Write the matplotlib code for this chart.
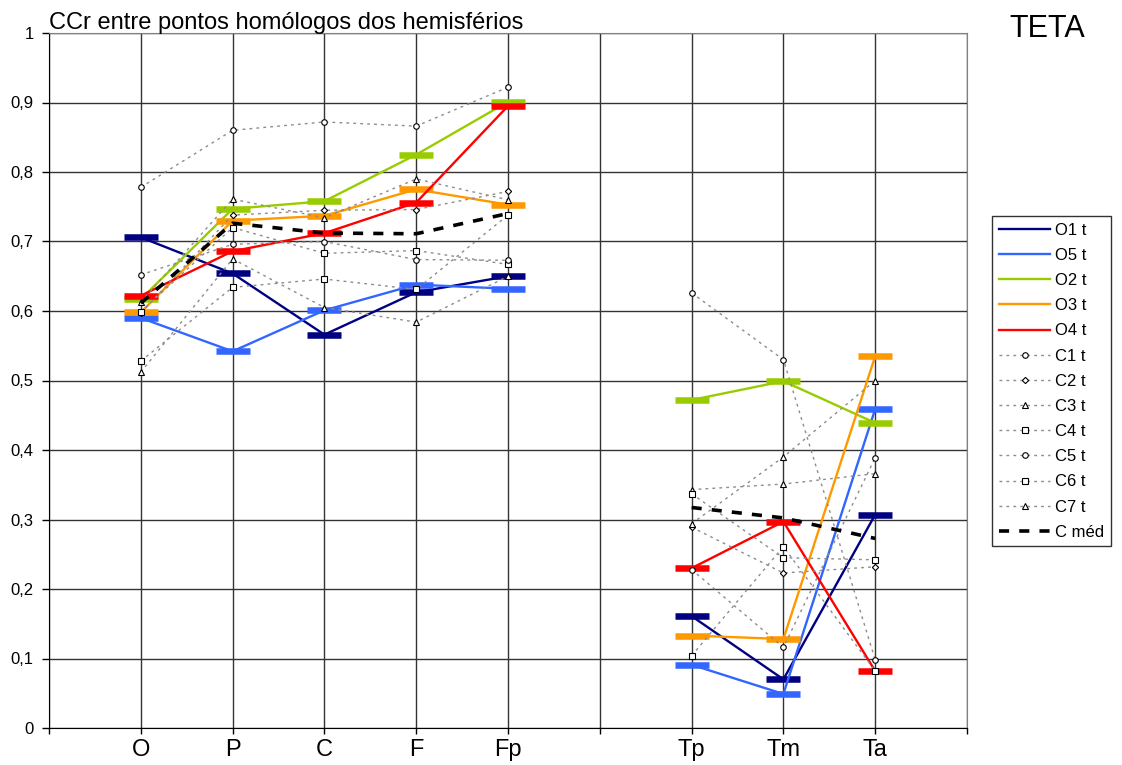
import numpy as np
import matplotlib
matplotlib.use('Agg')
import matplotlib.pyplot as plt
import matplotlib.transforms as mtransforms
from matplotlib.lines import Line2D

plt.rcParams['font.family'] = ['Liberation Sans', 'DejaVu Sans']

# electrode regions (position 6 is an empty slot between the two groups)
labels = ['O', 'P', 'C', 'F', 'Fp', 'Tp', 'Tm', 'Ta']
xpos = [1, 2, 3, 4, 5, 7, 8, 9]

O1 = [0.706, 0.654, 0.566, 0.627, 0.650, 0.161, 0.070, 0.307]
O5 = [0.590, 0.542, 0.601, 0.638, 0.632, 0.091, 0.049, 0.459]
O2 = [0.617, 0.747, 0.758, 0.825, 0.901, 0.472, 0.499, 0.439]
O3 = [0.598, 0.730, 0.737, 0.775, 0.753, 0.133, 0.128, 0.535]
O4 = [0.622, 0.686, 0.712, 0.756, 0.895, 0.230, 0.297, 0.082]

C1 = [0.778, 0.860, 0.872, 0.866, 0.922, 0.626, 0.530, 0.098]
C2 = [0.597, 0.738, 0.745, 0.746, 0.772, 0.289, 0.223, 0.232]
C3 = [0.613, 0.761, 0.734, 0.790, 0.760, 0.343, 0.351, 0.366]
C4 = [0.599, 0.720, 0.683, 0.687, 0.667, 0.337, 0.245, 0.242]
C5 = [0.652, 0.696, 0.700, 0.674, 0.673, 0.228, 0.116, 0.389]
C6 = [0.528, 0.634, 0.646, 0.631, 0.738, 0.104, 0.261, 0.082]
C7 = [0.512, 0.675, 0.605, 0.584, 0.650, 0.294, 0.390, 0.500]

o_series = [('O1 t', O1, '#000080'), ('O5 t', O5, '#3366ff'), ('O2 t', O2, '#99cc00'),
            ('O3 t', O3, '#ff9900'), ('O4 t', O4, '#ff0000')]
c_series = [('C1 t', C1, 'o'), ('C2 t', C2, 'D'), ('C3 t', C3, '^'), ('C4 t', C4, 's'),
            ('C5 t', C5, 'o'), ('C6 t', C6, 's'), ('C7 t', C7, '^')]
c_med = np.mean([C1, C2, C3, C4, C5, C6, C7], axis=0)


def with_gap(vals):
    x = np.insert(np.array(xpos, float), 5, 6)
    y = np.insert(np.array(vals, float), 5, np.nan)
    return x, y


W, H = 1122, 765
fig = plt.figure(figsize=(W / 100, H / 100), dpi=100)
ax = fig.add_axes([49 / W, 1 - 728 / H, (967 - 49) / W, (728 - 33) / H])

handles = []
for name, vals, color in o_series:
    x, y = with_gap(vals)
    ax.plot(x, y, color=color, lw=1.7, marker='_', ms=24.5, mew=4.7, zorder=3)
    handles.append(Line2D([], [], color=color, lw=1.7, label=name))

c_kw = dict(color='#8c8c8c', lw=1.0, ls=(0, (2, 3)), mfc='white', mec='black', mew=0.8)
for name, vals, m in c_series:
    ms = 3.2 if m == 'D' else 4
    x, y = with_gap(vals)
    ax.plot(x, y, marker=m, ms=ms, zorder=4, **c_kw)
    handles.append(Line2D([], [], marker=m, ms=ms, label=name, **c_kw))

x, y = with_gap(c_med)
ax.plot(x, y, color='black', lw=2.6, ls=(0, (2.8, 2.8)), zorder=5)
handles.append(Line2D([], [], color='black', lw=2.6, ls=(0, (2.8, 2.8)), label='C méd'))

ax.set_xlim(0, 10)
ax.set_ylim(0, 1)
ax.set_xticks(range(11))
tick_text = [''] * 11
for lab, p in zip(labels, xpos):
    tick_text[p] = lab
ax.set_xticklabels(tick_text)
ax.set_yticks(np.arange(0, 1.01, 0.1))
ax.set_yticklabels(['0'] + ['0,%d' % i for i in range(1, 10)] + ['1'])

shift = mtransforms.ScaledTranslation(-7 / 100, 0, fig.dpi_scale_trans)
for t in ax.get_xticklabels():
    t.set_transform(t.get_transform() + shift)

ax.tick_params(axis='x', direction='out', length=4, width=1, labelsize=17, pad=4)
ax.tick_params(axis='y', direction='out', length=5, width=1, labelsize=12, pad=6)

ax.set_axisbelow(True)
ax.grid(True, color='#333333', lw=1.0)
for side in ['top', 'right']:
    ax.spines[side].set_color('#808080')
for side in ['left', 'bottom']:
    ax.spines[side].set_color('black')

fig.text(49 / W, 1 - 29 / H, 'CCr entre pontos homólogos dos hemisférios',
         fontsize=17, va='baseline', ha='left')
fig.text(1009 / W, 1 - 37 / H, 'TETA', fontsize=22, va='baseline', ha='left')

leg = fig.legend(handles=handles, loc='upper left', bbox_to_anchor=(992 / W, 1 - 216 / H),
                 bbox_transform=fig.transFigure, frameon=True, fancybox=False,
                 edgecolor='black', fontsize=12, handlelength=3.1, handletextpad=0.3,
                 labelspacing=0.61, borderpad=0.4, borderaxespad=0, numpoints=1)
leg.get_frame().set_linewidth(1.0)

fig.savefig('out.png', dpi=100)
